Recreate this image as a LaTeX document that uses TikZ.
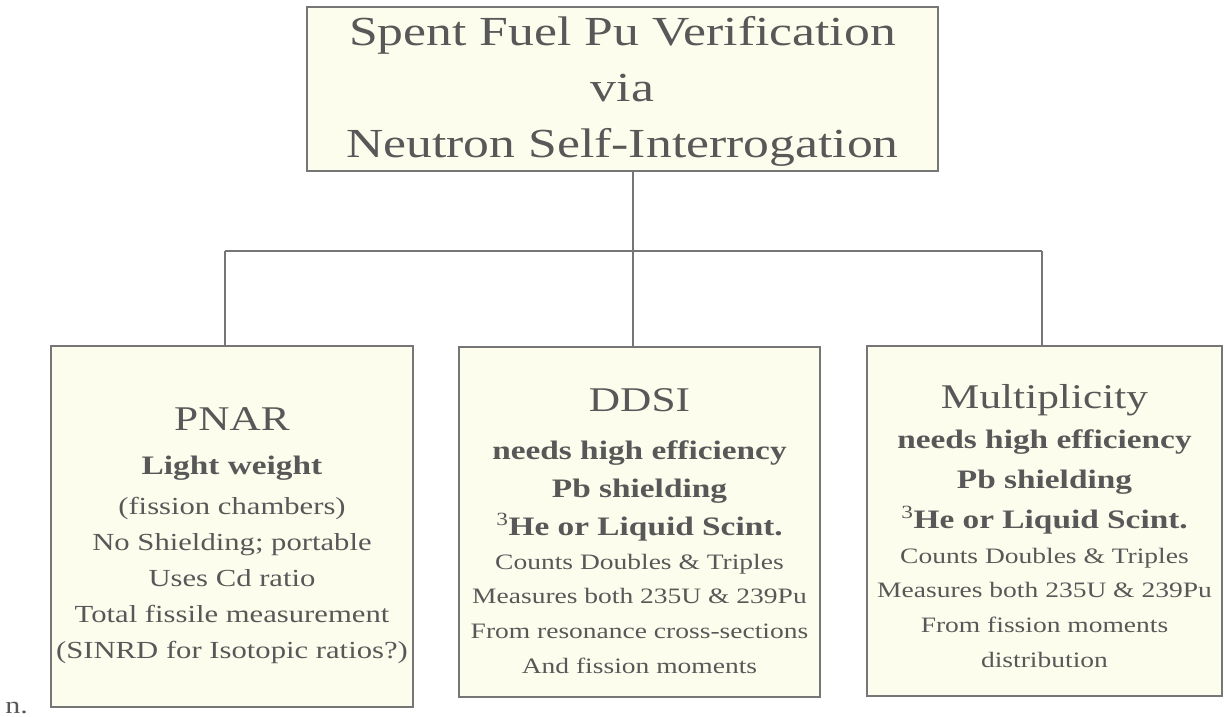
\documentclass[tikz,border=0pt]{standalone}
\usepackage{fontspec}
\setmainfont{Liberation Serif}[FakeStretch=1.25]
\usetikzlibrary{positioning}

\definecolor{linegray}{RGB}{118,118,118}
\definecolor{inkgray}{RGB}{88,88,88}
\definecolor{paper}{RGB}{253,253,238}

\newcommand{\titlefont}{\fontsize{31}{42}\selectfont}
\newcommand{\headfont}{\fontsize{26}{36}\selectfont}
\newcommand{\keyfont}{\fontsize{20}{29}\selectfont\bfseries}
\newcommand{\notefont}{\fontsize{16.5}{26}\selectfont}
\newcommand{\pnarfont}{\fontsize{18.4}{27}\selectfont}

\tikzset{
  box/.style={draw=linegray, line width=1.5pt, fill=paper, inner sep=0pt},
  link/.style={draw=linegray, line width=2.2pt},
  txt/.style={text=inkgray, align=center, anchor=base, inner sep=0pt},
}

\begin{document}
\begin{tikzpicture}[x=0.75pt, y=-0.75pt]
  \useasboundingbox (0,0) rectangle (1225,717);

  % boxes
  \node[box, minimum width=473.25pt, minimum height=123pt] (top) at (622.5,89) {};
  \node[box, minimum width=271.5pt, minimum height=270.75pt] (pnar) at (232,526.5) {};
  \node[box, minimum width=270.75pt, minimum height=262.5pt] (ddsi) at (639.5,522) {};
  \node[box, minimum width=266.25pt, minimum height=262.5pt] (mult) at (1044.5,521) {};

  % tree lines
  \coordinate (hub) at (633,251);
  \coordinate (barL) at (225,251);
  \coordinate (barR) at (1042,251);
  \draw[link] (top.south -| hub) -- (hub);
  \draw[link] (barL) -- (barR);
  \draw[link] (barL) -- (barL |- pnar.north);
  \draw[link] (hub) -- (hub |- ddsi.north);
  \draw[link] (barR) -- (barR |- mult.north);

  % texts (anchored on the last line)
  \node[txt, font=\titlefont] (toptext) at (622.5,157)
    {Spent Fuel Pu Verification\\ via\\ Neutron Self-Interrogation};
  \node[txt, font=\pnarfont] (pnartext) at (232,658)
    {\headfont PNAR\\[6pt]
     \keyfont Light weight\\[3pt]
     (fission chambers)\\ No Shielding; portable\\ Uses Cd ratio\\
     Total fissile measurement\\ (SINRD for Isotopic ratios?)};
  \node[txt, font=\notefont] (dditext) at (639.5,673)
    {\headfont DDSI\\[10pt]
     \keyfont needs high efficiency\\[2.5pt]
     \keyfont Pb shielding\\[3pt]
     \keyfont \textsuperscript{\mdseries 3}He or Liquid Scint.\\[-1pt]
     Counts Doubles \& Triples\\ Measures both 235U \& 239Pu\\
     From resonance cross-sections\\ And fission moments};
  \node[txt, font=\notefont] (multtext) at (1044.5,667)
    {\headfont Multiplicity\\[4pt]
     \keyfont needs high efficiency\\[4pt]
     \keyfont Pb shielding\\[4pt]
     \keyfont \textsuperscript{\mdseries 3}He or Liquid Scint.\\
     Counts Doubles \& Triples\\ Measures both 235U \& 239Pu\\
     From fission moments\\ distribution};
  \node[txt, anchor=base west] (tail) at (5,713) {\fontsize{18}{22}\selectfont n.};
\end{tikzpicture}
\end{document}
